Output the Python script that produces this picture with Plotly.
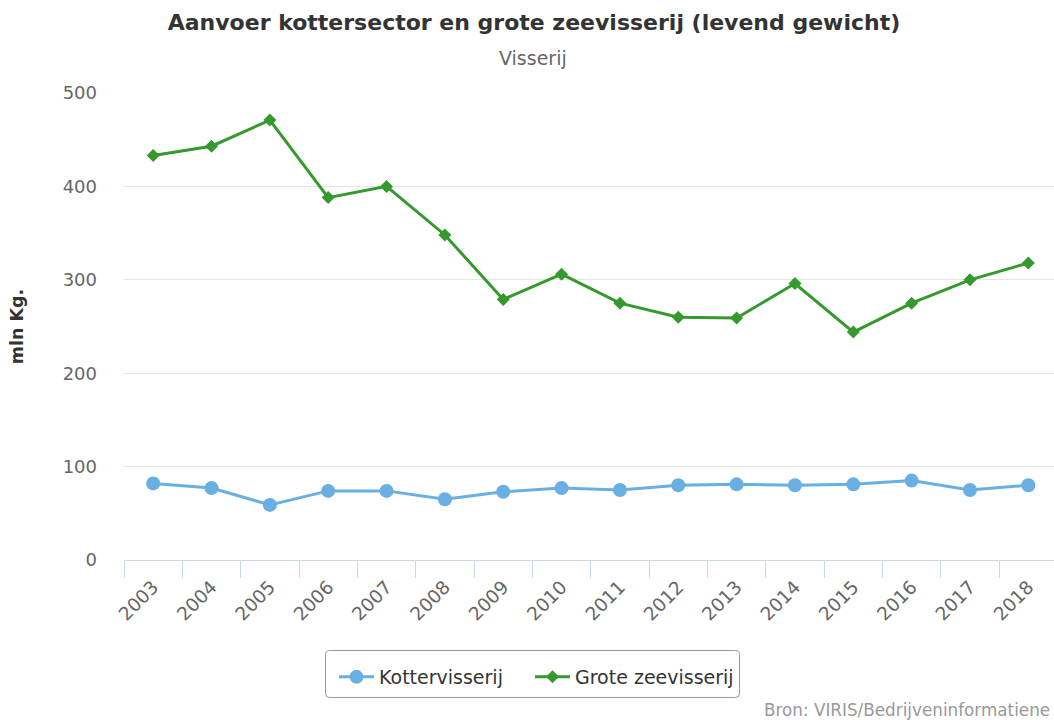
import plotly.graph_objects as go

# Aanvoer per jaar (mln kg levend gewicht)
jaren = ["2003", "2004", "2005", "2006", "2007", "2008", "2009", "2010",
         "2011", "2012", "2013", "2014", "2015", "2016", "2017", "2018"]
kottervisserij = [82, 77, 59, 74, 74, 65, 73, 77, 75, 80, 81, 80, 81, 85, 75, 80]
grote_zeevisserij = [433, 443, 471, 388, 400, 348, 279, 306, 275, 260, 259, 296,
                     244, 275, 300, 318]

blauw = "#6aafe1"
groen = "#35992d"

W, H = 1054, 720
pl, pr, pt, pb = 124, 0, 93, 160
pw, ph = W - pl - pr, H - pt - pb


def px_x(x):
    return (x - pl) / pw


def px_y(y):
    return (H - pb - y) / ph


fig = go.Figure()
fig.add_trace(go.Scatter(
    x=jaren, y=kottervisserij, name="Kottervisserij", mode="lines+markers",
    line=dict(color=blauw, width=3),
    marker=dict(symbol="circle", size=14, color=blauw),
    legend="legend",
))
fig.add_trace(go.Scatter(
    x=jaren, y=grote_zeevisserij, name="Grote zeevisserij", mode="lines+markers",
    line=dict(color=groen, width=3),
    marker=dict(symbol="diamond", size=10, color=groen),
    legend="legend2",
))

# rounded legend frame
lx0, lx1, ly0, ly1, rr = 325.5, 739.5, 650.5, 697.5, 4
frame = (f"M {lx0 + rr},{ly0} L {lx1 - rr},{ly0} Q {lx1},{ly0} {lx1},{ly0 + rr} "
         f"L {lx1},{ly1 - rr} Q {lx1},{ly1} {lx1 - rr},{ly1} "
         f"L {lx0 + rr},{ly1} Q {lx0},{ly1} {lx0},{ly1 - rr} "
         f"L {lx0},{ly0 + rr} Q {lx0},{ly0} {lx0 + rr},{ly0} Z")


def to_paper_path(path):
    out = []
    toks = path.replace(",", " , ").split()
    i = 0
    while i < len(toks):
        t = toks[i]
        if t in ("M", "L", "Q", "Z"):
            out.append(t)
            i += 1
        else:
            x = float(toks[i]); y = float(toks[i + 2])
            out.append(f"{px_x(x):.5f},{px_y(y):.5f}")
            i += 3
    return " ".join(out)


legend_style = dict(
    orientation="h", yanchor="middle", xanchor="left",
    borderwidth=0, bgcolor="rgba(0,0,0,0)",
    font=dict(family="DejaVu Sans", size=19, color="#333333"),
    itemwidth=35,
)

fig.update_layout(
    width=W, height=H,
    margin=dict(l=pl, r=pr, t=pt, b=pb),
    paper_bgcolor="white", plot_bgcolor="white",
    font=dict(family="DejaVu Sans", color="#666666"),
    title=dict(
        text="<b>Aanvoer kottersector en grote zeevisserij (levend gewicht)</b>",
        x=534 / W, xref="container", xanchor="center",
        y=1 - 22 / H, yref="container", yanchor="middle",
        font=dict(family="DejaVu Sans", size=22, color="#333333"),
    ),
    showlegend=True,
    legend=dict(x=px_x(334), y=px_y(677), **legend_style),
    legend2=dict(x=px_x(530), y=px_y(677), **legend_style),
    xaxis=dict(
        type="category", range=[-0.5, 15.44],
        showgrid=False, showline=True, linecolor="#ccd6eb", linewidth=1,
        ticks="outside", tickson="boundaries", ticklen=17, tickcolor="#ccd6eb",
        tickangle=-45, tickfont=dict(size=18.5, color="#666666"),
        ticklabelstandoff=8,
        fixedrange=True,
    ),
    yaxis=dict(
        range=[0, 500], tickvals=[0, 100, 200, 300, 400, 500],
        showgrid=True, gridcolor="#e6e6e6", gridwidth=1,
        zeroline=False, showline=False,
        ticklabelstandoff=26,
        tickfont=dict(size=18, color="#666666"),
        title=dict(text="<b>mln Kg.</b>", standoff=34,
                   font=dict(size=17.5, color="#333333")),
    ),
    shapes=[dict(type="path", xref="paper", yref="paper", path=to_paper_path(frame),
                 line=dict(color="#999999", width=1), fillcolor="rgba(0,0,0,0)")],
    annotations=[
        dict(text="Visserij", x=px_x(533), xref="paper", y=px_y(58), yref="paper",
             xanchor="center", yanchor="middle",
             showarrow=False, font=dict(size=19, color="#666666")),
        dict(text="Bron: VIRIS/Bedrijveninformatiene", x=px_x(762), y=px_y(710),
             xref="paper", yref="paper", xanchor="left", yanchor="middle",
             showarrow=False, font=dict(size=16.8, color="#999999")),
    ],
)

fig.write_html("out.html")
